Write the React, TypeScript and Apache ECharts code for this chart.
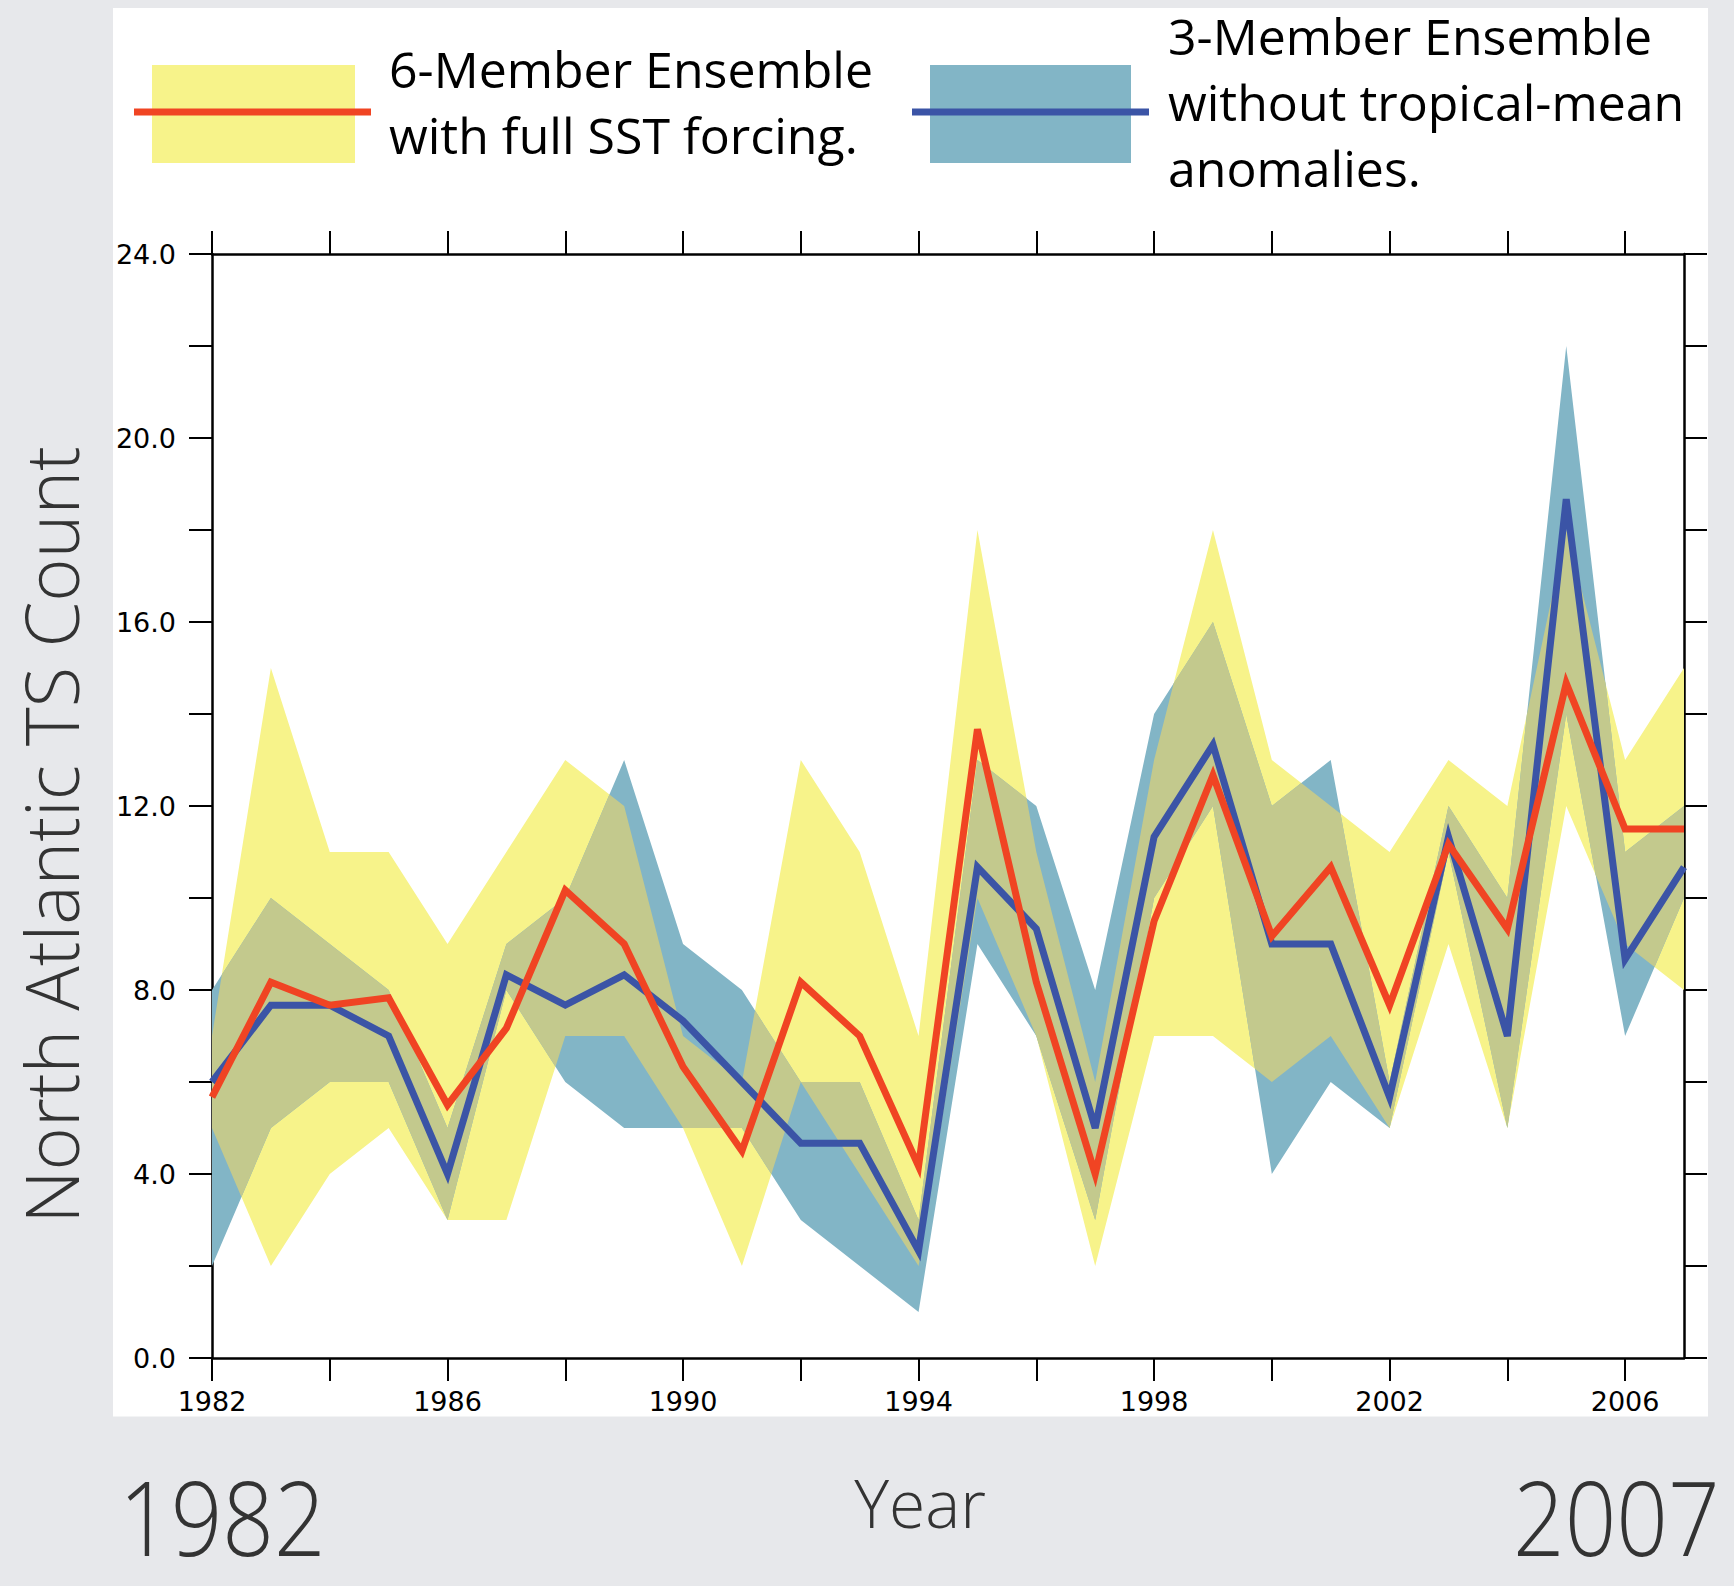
import React, { useEffect, useRef } from "react";
import * as echarts from "echarts";

// ---------- data ----------
const years = [1982, 1983, 1984, 1985, 1986, 1987, 1988, 1989, 1990, 1991, 1992, 1993, 1994, 1995, 1996, 1997, 1998, 1999, 2000, 2001, 2002, 2003, 2004, 2005, 2006, 2007];

// 6-member ensemble with full SST forcing
const ens6Mean = [5.67, 8.17, 7.67, 7.83, 5.5, 7.17, 10.17, 9.0, 6.33, 4.5, 8.17, 7.0, 4.17, 13.67, 8.17, 4.0, 9.5, 12.67, 9.17, 10.67, 7.67, 11.17, 9.33, 14.67, 11.5, 11.5];
const ens6Min = [5, 2, 4, 5, 3, 3, 7, 7, 5, 2, 6, 4, 2, 10, 7, 2, 7, 7, 6, 7, 5, 9, 5, 12, 9, 8];
const ens6Max = [7, 15, 11, 11, 9, 11, 13, 12, 7, 6, 13, 11, 7, 18, 11, 6, 13, 18, 13, 12, 11, 13, 12, 18, 13, 15];

// 3-member ensemble without tropical-mean anomalies
const ens3Mean = [6.0, 7.67, 7.67, 7.0, 4.0, 8.33, 7.67, 8.33, 7.33, 6.0, 4.67, 4.67, 2.33, 10.67, 9.33, 5.0, 11.33, 13.33, 9.0, 9.0, 5.67, 11.33, 7.0, 18.67, 8.67, 10.67];
const ens3Min = [2, 5, 6, 6, 3, 8, 6, 5, 5, 5, 3, 2, 1, 9, 7, 3, 10, 12, 4, 6, 5, 11, 5, 14, 7, 10];
const ens3Max = [8, 10, 9, 8, 5, 9, 10, 13, 9, 8, 6, 6, 3, 13, 12, 8, 14, 16, 12, 13, 6, 12, 10, 22, 11, 12];

// axis ticks / labels
const xTickYears = [1982, 1984, 1986, 1988, 1990, 1992, 1994, 1996, 1998, 2000, 2002, 2004, 2006];
const xLabelYears = [1982, 1986, 1990, 1994, 1998, 2002, 2006];
const yTickValues = [0, 2, 4, 6, 8, 10, 12, 14, 16, 18, 20, 22, 24];
const yLabelValues = [0, 4, 8, 12, 16, 20, 24];

const legend6Lines = ["6-Member Ensemble", "with full SST forcing."];
const legend3Lines = ["3-Member Ensemble", "without tropical-mean", "anomalies."];
const yAxisTitle = "North Atlantic TS Count";
const xAxisTitle = "Year";
const startLabel = "1982";
const endLabel = "2007";

// ---------- style ----------
const W = 1734;
const H = 1586;
const BG = "#e7e8eb";
const YELLOW = "#f7f38a";
const BLUE_BAND = "#82b5c6";
const OLIVE = "#c3c98d";
const RED = "#f04423";
const BLUE_LINE = "#3b54a6";
const TICK_FONT = "'DejaVu Sans', sans-serif";
const TEXT_FONT = "'Open Sans', 'Noto Sans', sans-serif";

function bandPolygon(lo: number[], hi: number[]): number[][] {
  const top = years.map((yr, i) => [yr, hi[i]]);
  const bottom = years.map((yr, i) => [yr, lo[i]]).reverse();
  return top.concat(bottom);
}

function crossing(f0: number, f1: number, g0: number, g1: number): number | null {
  const d0 = f0 - g0;
  const d1 = f1 - g1;
  if (d0 * d1 < 0) return d0 / (d0 - d1);
  return null;
}

// intersection of the two ensemble ranges (overlap region)
function overlapPolygon(): number[][] {
  const upper: number[][] = [];
  const lower: number[][] = [];
  for (let i = 0; i < years.length - 1; i++) {
    const a = [ens6Min[i], ens6Min[i + 1]];
    const b = [ens3Min[i], ens3Min[i + 1]];
    const c = [ens6Max[i], ens6Max[i + 1]];
    const d = [ens3Max[i], ens3Max[i + 1]];
    const ts: number[] = [0, 1];
    const pairs = [[a, b], [c, d], [c, a], [c, b], [d, a], [d, b]];
    pairs.forEach(([f, g]) => {
      const t = crossing(f[0], f[1], g[0], g[1]);
      if (t !== null) ts.push(t);
    });
    ts.sort((p, q) => p - q);
    const uniq = ts.filter((t, k) => k === 0 || Math.abs(t - ts[k - 1]) > 1e-9);
    uniq.forEach((t) => {
      if (i > 0 && t === 0) return;
      const lerp = (v: number[]) => v[0] + (v[1] - v[0]) * t;
      const x = years[i] + (years[i + 1] - years[i]) * t;
      const lo = Math.max(lerp(a), lerp(b));
      let hi = Math.min(lerp(c), lerp(d));
      if (hi < lo) hi = lo;
      upper.push([x, hi]);
      lower.push([x, lo]);
    });
  }
  return upper.concat(lower.reverse());
}

export default function App() {
  const ref = useRef<HTMLDivElement>(null);

  useEffect(() => {
    if (!ref.current) return;
    const chart = echarts.init(ref.current, null, { renderer: "svg" });

    const yellowPoly = bandPolygon(ens6Min, ens6Max);
    const bluePoly = bandPolygon(ens3Min, ens3Max);
    const olivePoly = overlapPolygon();

    const axisLineStyle = { color: "#000", width: 2.5 };
    const tickStyle = { color: "#000", width: 2 };

    const legendTexts: any[] = [];
    legend6Lines.forEach((t, i) => {
      legendTexts.push({
        type: "text",
        x: 389,
        y: 69 + i * 66,
        z: 10,
        style: { text: t, fill: "#000", fontSize: 50, lineHeight: 56, fontFamily: TEXT_FONT, align: "left", verticalAlign: "middle" },
      });
    });
    legend3Lines.forEach((t, i) => {
      legendTexts.push({
        type: "text",
        x: 1168,
        y: 36 + i * 66,
        z: 10,
        style: { text: t, fill: "#000", fontSize: 50, lineHeight: 56, fontFamily: TEXT_FONT, align: "left", verticalAlign: "middle" },
      });
    });

    const option: any = {
      animation: false,
      backgroundColor: BG,
      grid: { left: 212, right: 50, top: 254, bottom: 228, containLabel: false, outerBoundsMode: "none" },
      xAxis: [
        {
          type: "value",
          position: "bottom",
          min: 1982,
          max: 2007,
          axisLine: { show: true, onZero: false, lineStyle: axisLineStyle },
          axisTick: { show: true, inside: false, length: 23, customValues: xTickYears, lineStyle: tickStyle },
          axisLabel: {
            show: true,
            customValues: xLabelYears,
            formatter: (v: number) => String(v),
            fontSize: 27,
            fontFamily: TICK_FONT,
            color: "#000",
            margin: 30,
          },
          splitLine: { show: false },
        },
        {
          type: "value",
          position: "top",
          min: 1982,
          max: 2007,
          axisLine: { show: true, onZero: false, lineStyle: axisLineStyle },
          axisTick: { show: true, inside: false, length: 23, customValues: xTickYears, lineStyle: tickStyle },
          axisLabel: { show: false },
          splitLine: { show: false },
        },
      ],
      yAxis: [
        {
          type: "value",
          position: "left",
          min: 0,
          max: 24,
          axisLine: { show: true, onZero: false, lineStyle: axisLineStyle },
          axisTick: { show: true, inside: false, length: 23, customValues: yTickValues, lineStyle: tickStyle },
          axisLabel: {
            show: true,
            customValues: yLabelValues,
            formatter: (v: number) => v.toFixed(1),
            fontSize: 27,
            fontFamily: TICK_FONT,
            color: "#000",
            margin: 36,
          },
          splitLine: { show: false },
        },
        {
          type: "value",
          position: "right",
          min: 0,
          max: 24,
          axisLine: { show: true, onZero: false, lineStyle: axisLineStyle },
          axisTick: { show: true, inside: false, length: 23, customValues: yTickValues, lineStyle: tickStyle },
          axisLabel: { show: false },
          splitLine: { show: false },
        },
      ],
      series: [
        {
          type: "custom",
          name: "ranges",
          coordinateSystem: "cartesian2d",
          xAxisIndex: 0,
          yAxisIndex: 0,
          silent: true,
          z: 1,
          data: [[years[0], 0]],
          renderItem: (params: any, api: any) => {
            const toPx = (pts: number[][]) => pts.map((p) => api.coord(p));
            return {
              type: "group",
              children: [
                { type: "polygon", shape: { points: toPx(yellowPoly) }, style: { fill: YELLOW } },
                { type: "polygon", shape: { points: toPx(bluePoly) }, style: { fill: BLUE_BAND } },
                { type: "polygon", shape: { points: toPx(olivePoly) }, style: { fill: OLIVE } },
              ],
            };
          },
        },
        {
          type: "line",
          name: "3-Member Ensemble without tropical-mean anomalies.",
          xAxisIndex: 0,
          yAxisIndex: 0,
          z: 3,
          showSymbol: false,
          symbol: "none",
          data: years.map((yr, i) => [yr, ens3Mean[i]]),
          lineStyle: { color: BLUE_LINE, width: 7, join: "miter", miterLimit: 10 },
        },
        {
          type: "line",
          name: "6-Member Ensemble with full SST forcing.",
          xAxisIndex: 0,
          yAxisIndex: 0,
          z: 4,
          showSymbol: false,
          symbol: "none",
          data: years.map((yr, i) => [yr, ens6Mean[i]]),
          lineStyle: { color: RED, width: 7, join: "miter", miterLimit: 10 },
        },
      ],
      graphic: [
        { type: "rect", z: -5, silent: true, shape: { x: 113, y: 8, width: 1595, height: 1408.5 }, style: { fill: "#fff" } },
        // legend swatches
        { type: "rect", z: 5, shape: { x: 152, y: 65, width: 203, height: 98 }, style: { fill: YELLOW } },
        { type: "line", z: 6, shape: { x1: 134, y1: 112, x2: 371, y2: 112 }, style: { stroke: RED, lineWidth: 7 } },
        { type: "rect", z: 5, shape: { x: 930, y: 65, width: 201, height: 98 }, style: { fill: BLUE_BAND } },
        { type: "line", z: 6, shape: { x1: 912, y1: 112, x2: 1149, y2: 112 }, style: { stroke: BLUE_LINE, lineWidth: 7 } },
        ...legendTexts,
        {
          type: "text",
          z: 101,
          x: 50,
          y: 835,
          rotation: Math.PI / 2,
          style: { text: yAxisTitle, fill: "#333", fontSize: 74, lineHeight: 76, fontWeight: 300, fontFamily: TEXT_FONT, align: "center", verticalAlign: "middle" },
        },
        {
          type: "text",
          z: 101,
          x: 920,
          y: 1502,
          style: { text: xAxisTitle, fill: "#333", fontSize: 66, lineHeight: 70, fontWeight: 300, fontFamily: TEXT_FONT, align: "center", verticalAlign: "middle" },
        },
        {
          type: "text",
          z: 101,
          x: 119,
          y: 1516,
          scaleX: 0.87,
          style: { text: startLabel, fill: "#333", fontSize: 104, lineHeight: 80, fontWeight: 300, fontFamily: TEXT_FONT, align: "left", verticalAlign: "middle" },
        },
        {
          type: "text",
          z: 101,
          x: 1513,
          y: 1516,
          scaleX: 0.87,
          style: { text: endLabel, fill: "#333", fontSize: 104, lineHeight: 80, fontWeight: 300, fontFamily: TEXT_FONT, align: "left", verticalAlign: "middle" },
        },
      ],
    };

    chart.setOption(option);
    return () => chart.dispose();
  }, []);

  return <div ref={ref} style={{ position: "absolute", left: 0, top: 0, width: W, height: H }} />;
}
